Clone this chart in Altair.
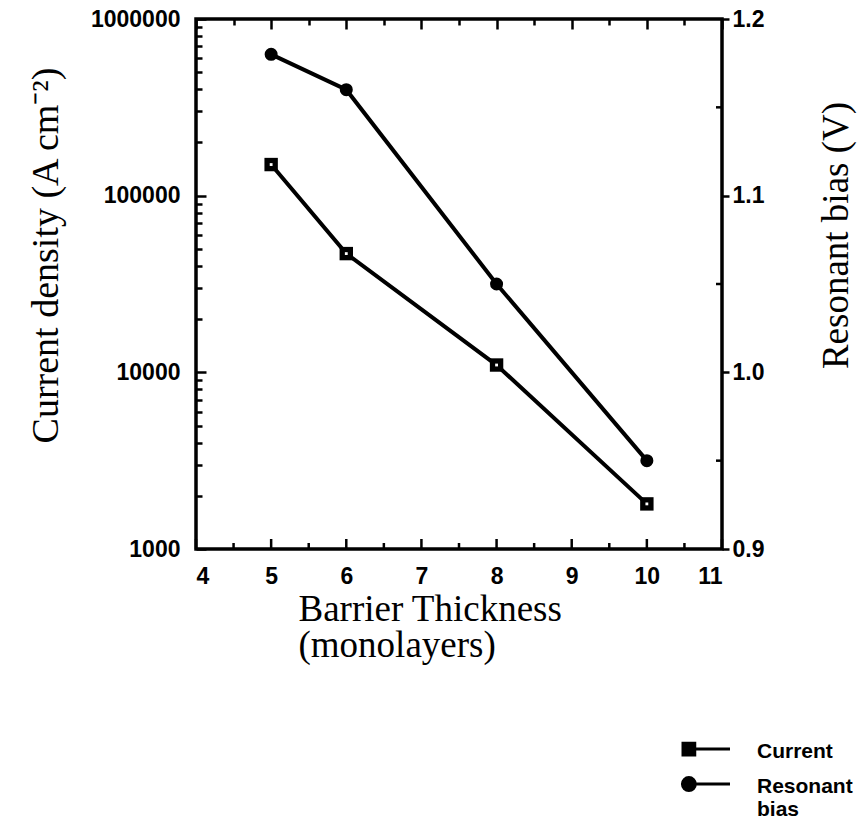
import altair as alt
import pandas as pd

# ---- data ----
thickness = [5, 6, 8, 10]
current_density = [150000, 47000, 11000, 1800]
resonant_bias = [1.18, 1.16, 1.05, 0.95]

x_major = [4, 5, 6, 7, 8, 9, 10, 11]
x_minor = [4.5, 5.5, 6.5, 7.5, 8.5, 9.5, 10.5]
y_left_major = [1000, 10000, 100000, 1000000]
y_left_minor = [m * 10 ** k for k in (3, 4, 5) for m in range(2, 10)]
y_right_major = [0.9, 1.0, 1.1, 1.2]
y_right_minor = [0.95, 1.05, 1.15]
series = ["Current", "Resonant bias"]

W, H = 526, 530

df = pd.DataFrame({"x": thickness, "cur": current_density, "res": resonant_bias})

xscale = alt.Scale(domain=[4, 11], nice=False, zero=False)
cur_scale = alt.Scale(type="log", domain=[1000, 1000000], nice=False)
res_scale = alt.Scale(domain=[0.9, 1.2], nice=False, zero=False)

LABEL = dict(labelFont="Liberation Sans", labelFontWeight="bold", labelFontSize=23, labelColor="black")
TITLE = dict(titleFont="Liberation Serif", titleFontWeight="normal", titleColor="black")


def X(axis):
    return alt.X("x:Q", scale=xscale, axis=axis)


def YC(axis):
    return alt.Y("cur:Q", scale=cur_scale, axis=axis)


def YR(axis):
    return alt.Y("res:Q", scale=res_scale, axis=axis)


x_main_axis = alt.Axis(orient="bottom", values=x_major, format="d", tickSize=0,
                       domain=False, grid=False, labelPadding=16,
                       title=["Barrier Thickness", "(monolayers)"],
                       titleX=102, titleY=42, titleAlign="left", titleBaseline="top",
                       titleLineHeight=36, titleFontSize=37, **LABEL, **TITLE)

y_left_axis = alt.Axis(orient="left", values=y_left_major, format="d", tickSize=0,
                       domain=False, grid=False, labelPadding=16,
                       title="Current density (A cm\u207b\u00b2)",
                       titleAngle=270, titleX=-150, titleY=236, titleFontSize=38,
                       titleAlign="center", titleBaseline="middle", **LABEL, **TITLE)

y_right_axis = alt.Axis(orient="right", values=y_right_major, format=".1f", tickSize=7,
                        tickWidth=2.5, tickColor="black", domain=False, grid=False,
                        labelPadding=3, title="Resonant bias (V)",
                        titleAngle=270, titleX=114, titleY=216, titleFontSize=37,
                        titleAlign="center", titleBaseline="middle", **LABEL, **TITLE)

base = alt.Chart(df)

cur_line = base.mark_line(color="black", strokeWidth=4).encode(X(x_main_axis), YC(y_left_axis))
cur_pts = base.mark_square(size=180, color="black", opacity=1).encode(X(None), YC(None))
cur_dot = base.mark_square(size=8, color="white", opacity=1).encode(X(None), YC(None))
res_line = base.mark_line(color="black", strokeWidth=4).encode(X(None), YR(y_right_axis))
res_pts = base.mark_circle(size=170, color="black", opacity=1).encode(X(None), YR(None))


# inward tick marks along the bottom and right edges, positioned through the scales
def xticks(values, y0, y1):
    return alt.Chart(pd.DataFrame({"x": values})).mark_rule(color="black", strokeWidth=2.5).encode(
        x=alt.X("x:Q", scale=xscale, axis=None), y=alt.value(y0), y2=alt.value(y1))


def yticks(values, scale, x0, x1):
    return alt.Chart(pd.DataFrame({"v": values})).mark_rule(color="black", strokeWidth=2.5).encode(
        y=alt.Y("v:Q", scale=scale, axis=None), x=alt.value(x0), x2=alt.value(x1))


# inward ticks along the top and left edges, drawn by tick-only axes
def tick_axis(orient, offset, values, size):
    return alt.Axis(orient=orient, offset=offset, values=values, labels=False,
                    tickSize=size, tickWidth=2.5, tickColor="black", zindex=5,
                    domain=False, grid=False, title=None)


carrier_major = base.mark_point(opacity=0).encode(
    X(tick_axis("bottom", -H, x_major, 10)), YC(tick_axis("right", -W, y_left_major, 10)))
carrier_minor = base.mark_point(opacity=0).encode(
    X(tick_axis("bottom", -H, x_minor, 6)), YC(tick_axis("right", -W, y_left_minor, 6)))

tick_layers = [
    xticks(x_major, H, H - 10), xticks(x_minor, H, H - 6),
    yticks(y_right_minor, res_scale, W, W - 6),
    carrier_major, carrier_minor,
]

sq_path = "M-2,0.73H2M-2,0.23H-1V1.23H-2Z"
circ_path = "M-2,0.73H2M-2.05,0.73A0.55,0.55 0 1,1 -0.95,0.73A0.55,0.55 0 1,1 -2.05,0.73Z"

leg = alt.Legend(orient="none", legendX=497, legendY=708, title=None,
                 symbolSize=552, symbolStrokeWidth=3,
                 symbolFillColor="black", symbolStrokeColor="black",
                 symbolOpacity=1,
                 labelFont="Liberation Sans", labelFontWeight="bold",
                 labelFontSize=21, labelColor="black", labelOffset=37,
                 labelBaseline="top", rowPadding=0, padding=0,
                 labelExpr="datum.label == 'Resonant bias' ? ['Resonant', 'bias'] : datum.label")

legend_layer = base.transform_calculate(s="'Current'").transform_filter("false").mark_point(
    filled=False, fill="black", strokeWidth=3, opacity=1
).encode(
    X(None), YC(None),
    shape=alt.Shape("s:N", scale=alt.Scale(domain=series, range=[sq_path, circ_path]), legend=leg),
    color=alt.Color("s:N", scale=alt.Scale(domain=series, range=["black", "black"]), legend=leg),
)

chart = alt.layer(
    cur_line, cur_pts, cur_dot, res_line, res_pts, *tick_layers, legend_layer
).resolve_scale(y="independent").resolve_axis(x="independent", y="independent").properties(
    width=W, height=H,
    padding={"left": 196, "top": 19, "right": 865 - 196 - W, "bottom": 833 - 19 - H},
    autosize=alt.AutoSizeParams(type="none"),
    background="white",
).configure_view(stroke="black", strokeWidth=3.5)

chart.save("out.html", embed_options={"renderer": "svg", "actions": False})
